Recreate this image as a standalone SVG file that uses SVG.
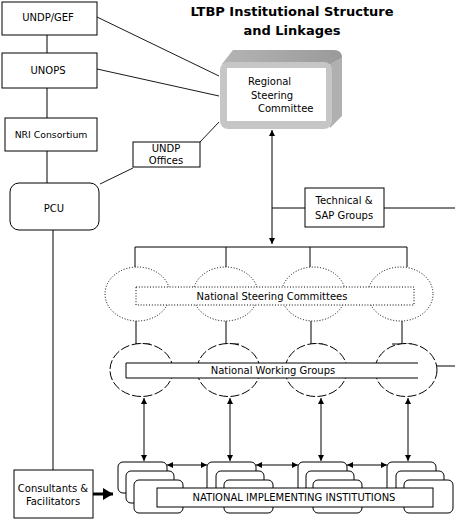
<svg xmlns="http://www.w3.org/2000/svg" width="455" height="521" viewBox="0 0 455 521">
<defs>
<style>
text{font-family:"DejaVu Sans","Liberation Sans",sans-serif;font-size:10px;fill:#000}
.t{text-anchor:middle}
.title{font-weight:bold;font-size:13px;text-anchor:middle}
.box{fill:#fff;stroke:#000;stroke-width:1}
.ln{fill:none;stroke:#000;stroke-width:1}
.dash{fill:none;stroke:#000;stroke-width:0.9}
.dot{fill:#fff;stroke:#000;stroke-width:1;stroke-dasharray:1 1.8}
.dsh{fill:#fff;stroke:#000;stroke-width:1;stroke-dasharray:9 2.5}
.stk{fill:#fff;stroke:#000;stroke-width:1}
</style>
<marker id="ah" viewBox="0 0 10 10" refX="10" refY="5" markerWidth="6" markerHeight="6" markerUnits="userSpaceOnUse" orient="auto-start-reverse">
<path d="M0,0 L10,5 L0,10 Z" fill="#000"/>
</marker>
<marker id="big" viewBox="0 0 10 12" refX="10" refY="6" markerWidth="11" markerHeight="12" markerUnits="userSpaceOnUse" orient="auto">
<path d="M0,0 L10,6 L0,12 Z" fill="#000"/>
</marker>
<linearGradient id="topg" x1="0" y1="0" x2="1" y2="0">
<stop offset="0" stop-color="#b4b4b4"/>
<stop offset="1" stop-color="#9a9a9a"/>
</linearGradient>
</defs>
<rect width="455" height="521" fill="#fff"/>

<text class="title" x="292" y="16">LTBP Institutional Structure</text>
<text class="title" x="292" y="35">and Linkages</text>

<g id="connectors">
<line class="ln" x1="47" y1="35" x2="47" y2="53"/>
<line class="ln" x1="47" y1="88" x2="47" y2="118"/>
<line class="ln" x1="47" y1="151" x2="47" y2="183"/>
<line class="ln" x1="53" y1="230" x2="53" y2="470"/>
<line class="dash" x1="97" y1="17" x2="219" y2="76"/>
<line class="dash" x1="97" y1="69" x2="219" y2="96"/>
<line class="dash" x1="200" y1="142" x2="219" y2="122"/>
<line class="dash" x1="100" y1="184" x2="133" y2="168"/>
<line class="ln" x1="272" y1="130" x2="272" y2="244" marker-start="url(#ah)" marker-end="url(#ah)"/>
<line class="ln" x1="272" y1="208" x2="305" y2="208"/>
<line class="ln" x1="384" y1="208" x2="455" y2="208"/>
<polyline class="ln" points="135,267 135,247 407,247 407,267"/>
<line class="ln" x1="226" y1="247" x2="226" y2="267"/>
<line class="ln" x1="310" y1="247" x2="310" y2="267"/>
<polyline class="ln" points="136,321 136,344 150,344"/>
<polyline class="ln" points="226,321 226,344 239,344"/>
<polyline class="ln" points="311,321 311,344 323,344"/>
<line class="ln" x1="402" y1="321" x2="402" y2="344"/>
<line class="ln" x1="392" y1="344" x2="412" y2="344"/>
<line class="ln" x1="437" y1="366" x2="455" y2="366"/>
<line class="ln" x1="144" y1="398" x2="144" y2="461" marker-start="url(#ah)" marker-end="url(#ah)"/>
<line class="ln" x1="230" y1="398" x2="230" y2="461" marker-start="url(#ah)" marker-end="url(#ah)"/>
<line class="ln" x1="321" y1="398" x2="321" y2="461" marker-start="url(#ah)" marker-end="url(#ah)"/>
<line class="ln" x1="408" y1="398" x2="408" y2="461" marker-start="url(#ah)" marker-end="url(#ah)"/>
<line class="ln" x1="167" y1="465" x2="207" y2="465" marker-start="url(#ah)" marker-end="url(#ah)"/>
<line class="ln" x1="256" y1="465" x2="298" y2="465" marker-start="url(#ah)" marker-end="url(#ah)"/>
<line class="ln" x1="347" y1="465" x2="387" y2="465" marker-start="url(#ah)" marker-end="url(#ah)"/>
<line x1="93" y1="494" x2="113" y2="494" stroke="#000" stroke-width="3" marker-end="url(#big)"/>
</g>

<g id="undp-gef"><rect class="box" x="2" y="2" width="95" height="33"/><text class="t" x="48" y="21">UNDP/GEF</text></g>
<g id="unops"><rect class="box" x="2" y="53" width="95" height="35"/><text class="t" x="48" y="74">UNOPS</text></g>
<g id="nri"><rect class="box" x="5" y="118" width="92" height="33"/><text class="t" x="51" y="138" style="font-size:9.3px">NRI Consortium</text></g>
<g id="pcu"><rect class="box" x="10" y="183" width="89" height="47" rx="9"/><text class="t" x="54" y="212">PCU</text></g>
<g id="undp-offices"><rect class="box" x="133" y="142" width="67" height="25"/><text class="t" x="166" y="152">UNDP</text><text class="t" x="166" y="164">Offices</text></g>

<g id="rsc">
<path d="M222,64 L233,50 L334,50 Q342,50 342,58 L331,64 Z" fill="url(#topg)"/>
<path d="M330,64 L342,58 L342,116 L330,128 Z" fill="#b0b0b0"/>
<rect x="220" y="62" width="112" height="67" rx="8" fill="#c6c6c6"/>
<rect x="227" y="68" width="99" height="53" fill="#fff"/>
<text x="248" y="85">Regional</text>
<text x="251" y="99">Steering</text>
<text x="258" y="112">Committee</text>
</g>

<g id="technical-sap"><rect class="box" x="305" y="188" width="79" height="39"/><text class="t" x="344" y="204">Technical &amp;</text><text class="t" x="344" y="219">SAP Groups</text></g>

<g id="nsc">
<ellipse class="dot" cx="137.5" cy="294" rx="32.5" ry="27"/>
<ellipse class="dot" cx="225.5" cy="294" rx="32.5" ry="27"/>
<ellipse class="dot" cx="313.5" cy="294" rx="32" ry="27"/>
<ellipse class="dot" cx="400.5" cy="294" rx="32.5" ry="27"/>
<rect class="dot" x="136" y="287" width="278" height="18"/>
<text class="t" x="272" y="300">National Steering Committees</text>
</g>

<g id="nwg">
<ellipse class="dsh" cx="141.5" cy="370" rx="31.5" ry="26.5"/>
<ellipse class="dsh" cx="228.5" cy="370" rx="31.5" ry="26.5"/>
<ellipse class="dsh" cx="316" cy="370" rx="31" ry="26.5"/>
<ellipse class="dsh" cx="406" cy="370" rx="31" ry="26.5"/>
<rect x="126" y="363" width="292" height="15" fill="#fff"/>
<path class="ln" d="M418,363 L126,363 L126,378 L418,378"/>
<text class="t" x="273" y="374">National Working Groups</text>
</g>

<g id="nii">
<rect class="stk" x="118" y="462" width="49" height="31" rx="5"/>
<rect class="stk" x="126" y="471" width="48" height="32" rx="5"/>
<rect class="stk" x="134" y="480" width="49" height="33" rx="5"/>
<rect class="stk" x="207" y="462" width="49" height="31" rx="5"/>
<rect class="stk" x="216" y="471" width="48" height="32" rx="5"/>
<rect class="stk" x="224" y="480" width="49" height="33" rx="5"/>
<rect class="stk" x="298" y="462" width="49" height="31" rx="5"/>
<rect class="stk" x="306" y="471" width="48" height="32" rx="5"/>
<rect class="stk" x="313" y="480" width="49" height="33" rx="5"/>
<rect class="stk" x="387" y="462" width="49" height="31" rx="5"/>
<rect class="stk" x="396" y="471" width="48" height="32" rx="5"/>
<rect class="stk" x="404" y="480" width="49" height="33" rx="5"/>
<rect class="box" x="157" y="488" width="276" height="19"/>
<text class="t" x="294" y="501">NATIONAL IMPLEMENTING INSTITUTIONS</text>
</g>

<g id="consultants"><rect class="box" x="14" y="470" width="79" height="48"/><text class="t" x="53" y="492">Consultants &amp;</text><text class="t" x="53" y="505">Facilitators</text></g>
</svg>
